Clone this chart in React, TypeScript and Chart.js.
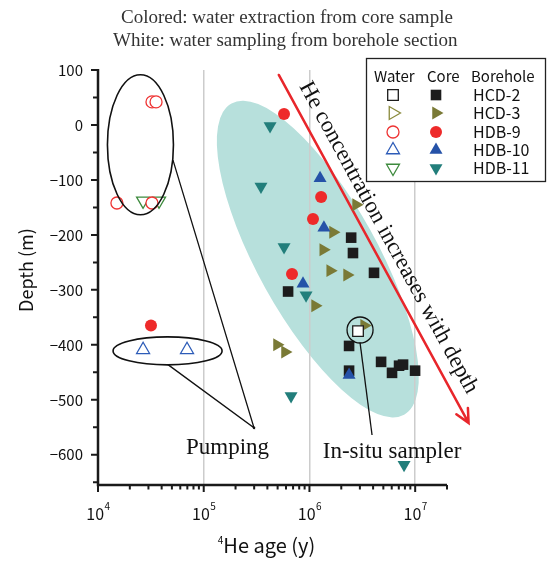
import React, { useEffect, useRef } from 'react';
import { Chart, registerables } from 'chart.js';
import { drawPoint } from 'chart.js/helpers';

Chart.register(...registerables);

const SANS = '"Noto Sans CJK JP", "DejaVu Sans", sans-serif';
const SERIF = '"Liberation Serif", "DejaVu Serif", serif';

// ---------- axes ----------
const X_MIN = 1e4;
const X_MAX = 2e7;
const Y_MIN = -655;
const Y_MAX = 100;
const xMajorTicks = [1e4, 1e5, 1e6, 1e7];
const xTickExponents = ['4', '5', '6', '7'];
const yMajorTicks = [100, 0, -100, -200, -300, -400, -500, -600];
const yMinorTicks = [50, -50, -150, -250, -350, -450, -550, -650];

// ---------- data (4He age in years, depth in m) ----------
const boreholes = ['HCD-2', 'HCD-3', 'HDB-9', 'HDB-10', 'HDB-11'];

const hcd2CoreAge = [2.48e6, 2.58e6, 4.08e6, 6.28e5, 2.37e6, 2.37e6, 4.76e6, 6.04e6, 7.04e6, 7.68e6, 9.98e6];
const hcd2CoreDepth = [-205, -233, -269, -303, -402, -447, -431, -451, -438, -436, -447];
const hcd2WaterAge = [2.88e6];
const hcd2WaterDepth = [-375];

const hcd3CoreAge = [2.76e6, 1.67e6, 1.35e6, 1.57e6, 2.27e6, 1.13e6, 3.29e6, 4.93e5, 5.87e5];
const hcd3CoreDepth = [-145, -195, -227, -265, -273, -329, -365, -400, -413];
const hcd3WaterAge: number[] = [];
const hcd3WaterDepth: number[] = [];

const hdb9CoreAge = [5.75e5, 1.29e6, 1.08e6, 6.84e5, 3.17e4];
const hdb9CoreDepth = [20, -131, -171, -271, -365];
const hdb9WaterAge = [3.24e4, 3.54e4, 1.51e4, 3.24e4];
const hdb9WaterDepth = [42, 42, -142, -142];

const hdb10CoreAge = [1.26e6, 1.37e6, 8.69e5, 2.37e6];
const hdb10CoreDepth = [-97, -187, -289, -455];
const hdb10WaterAge = [2.67e4, 6.95e4];
const hdb10WaterDepth = [-409, -409];

const hdb11CoreAge = [4.24e5, 3.48e5, 5.75e5, 9.29e5, 6.7e5, 7.85e6];
const hdb11CoreDepth = [-2, -112, -222, -310, -493, -618];
const hdb11WaterAge = [2.67e4, 3.78e4];
const hdb11WaterDepth = [-138, -138];

// ---------- styles ----------
const coreColors = ['#1c1c1c', '#7a7a36', '#ee2a2a', '#2552a8', '#227e7b'];
const waterColors = ['#1c1c1c', '#8a8a3c', '#ee3333', '#2d5cb8', '#3d8a3d'];
const pointStyles = ['rect', 'triangle', 'circle', 'triangle', 'triangle'];
const pointRotations = [0, 90, 0, 0, 180];
const pointRadii = [7.5, 7.5, 6, 7.5, 7.5];

// ---------- annotations (data coordinates) ----------
const tealEllipse = { x: 1.2e6, y: -244, a: 178, b: 60, rot: 61, color: '#b7e0dc' };
const trendArrow = { x1: 5.13e5, y1: 91, x2: 3.2e7, y2: -542, color: '#e8262b' };
const trendLabel = { x: 5.58e6, y: -205, text: 'He concentration increases with depth' };
const pumpEllipseUpper = { x: 2.52e4, y: -36, a: 33, b: 70 };
const pumpEllipseLower = { x: 4.55e4, y: -411, a: 54.5, b: 14 };
const pumpJoin = { x: 2.99e5, y: -551 };
const pumpFromUpper = { x: 5.12e4, y: -64 };
const pumpFromLower = { x: 4.59e4, y: -436 };
const pumpLabel = { x: 1.68e5, y: -587, text: 'Pumping' };
const samplerCircle = { x: 3.01e6, y: -373, r: 13 };
const samplerLineFrom = { x: 3.01e6, y: -396 };
const samplerLineTo = { x: 3.91e6, y: -564 };
const samplerLabel = { x: 6.04e6, y: -594, text: 'In-situ sampler' };
const titleLines = ['Colored: water extraction from core sample', 'White: water sampling from borehole section'];

function fmtY(v: number) {
  return v < 0 ? '\u2212' + Math.abs(v) : String(v);
}

function makeDatasets() {
  const core = [
    [hcd2CoreAge, hcd2CoreDepth],
    [hcd3CoreAge, hcd3CoreDepth],
    [hdb9CoreAge, hdb9CoreDepth],
    [hdb10CoreAge, hdb10CoreDepth],
    [hdb11CoreAge, hdb11CoreDepth],
  ];
  const water = [
    [hcd2WaterAge, hcd2WaterDepth],
    [hcd3WaterAge, hcd3WaterDepth],
    [hdb9WaterAge, hdb9WaterDepth],
    [hdb10WaterAge, hdb10WaterDepth],
    [hdb11WaterAge, hdb11WaterDepth],
  ];
  const mk = (i: number, kind: 'core' | 'water') => {
    const [xs, ys] = kind === 'core' ? core[i] : water[i];
    const open = kind === 'water';
    return {
      label: boreholes[i] + ' ' + kind,
      data: xs.map((x, j) => ({ x, y: ys[j] })),
      showLine: false,
      pointStyle: pointStyles[i],
      rotation: pointRotations[i],
      radius: pointRadii[i],
      pointRadius: pointRadii[i],
      pointBackgroundColor: open ? '#ffffff' : coreColors[i],
      pointBorderColor: open ? waterColors[i] : coreColors[i],
      pointBorderWidth: open ? 1.3 : 0,
      backgroundColor: open ? '#ffffff' : coreColors[i],
      borderColor: open ? waterColors[i] : coreColors[i],
    };
  };
  // index 0 is drawn on top
  return [
    mk(0, 'water'), mk(1, 'water'), mk(2, 'water'), mk(3, 'water'), mk(4, 'water'),
    mk(3, 'core'), mk(4, 'core'), mk(2, 'core'), mk(1, 'core'), mk(0, 'core'),
  ];
}

const annotPlugin = {
  id: 'annot',
  beforeDraw(chart: any) {
    const ctx = chart.ctx;
    const xs = chart.scales.x, ys = chart.scales.y;
    const cx = xs.getPixelForValue(tealEllipse.x);
    const cy = ys.getPixelForValue(tealEllipse.y);
    ctx.save();
    ctx.fillStyle = tealEllipse.color;
    ctx.beginPath();
    ctx.ellipse(cx, cy, tealEllipse.a, tealEllipse.b, (tealEllipse.rot * Math.PI) / 180, 0, Math.PI * 2);
    ctx.fill();
    ctx.restore();
  },
  beforeDatasetsDraw(chart: any) {
    const ctx = chart.ctx;
    const xs = chart.scales.x, ys = chart.scales.y;
    const x1 = xs.getPixelForValue(trendArrow.x1), y1 = ys.getPixelForValue(trendArrow.y1);
    const x2 = xs.getPixelForValue(trendArrow.x2), y2 = ys.getPixelForValue(trendArrow.y2);
    const ang = Math.atan2(y2 - y1, x2 - x1);
    ctx.save();
    ctx.strokeStyle = trendArrow.color;
    ctx.lineWidth = 2.5;
    ctx.lineCap = 'round';
    ctx.beginPath();
    ctx.moveTo(x1, y1);
    ctx.lineTo(x2, y2);
    const hl = 15, ha = (26 * Math.PI) / 180;
    ctx.moveTo(x2 - hl * Math.cos(ang - ha), y2 - hl * Math.sin(ang - ha));
    ctx.lineTo(x2, y2);
    ctx.lineTo(x2 - hl * Math.cos(ang + ha), y2 - hl * Math.sin(ang + ha));
    ctx.stroke();
    ctx.restore();
  },
  afterDraw(chart: any) {
    const ctx = chart.ctx;
    const xs = chart.scales.x, ys = chart.scales.y;
    const area = chart.chartArea;
    const px = (v: number) => xs.getPixelForValue(v);
    const py = (v: number) => ys.getPixelForValue(v);

    ctx.save();
    // axes lines
    ctx.strokeStyle = '#1a1a1a';
    ctx.lineWidth = 2.5;
    ctx.beginPath();
    ctx.moveTo(area.left, area.top - 1);
    ctx.lineTo(area.left, area.bottom);
    ctx.lineTo(area.right, area.bottom);
    ctx.stroke();

    // y ticks
    ctx.lineWidth = 2;
    ctx.beginPath();
    yMajorTicks.forEach((v) => {
      const y = py(v);
      ctx.moveTo(area.left - 7, y);
      ctx.lineTo(area.left, y);
    });
    yMinorTicks.forEach((v) => {
      const y = py(v);
      ctx.moveTo(area.left - 5, y);
      ctx.lineTo(area.left, y);
    });
    // x ticks
    xMajorTicks.forEach((v) => {
      const x = px(v);
      ctx.moveTo(x, area.bottom);
      ctx.lineTo(x, area.bottom + 7);
    });
    for (let d = 1e4; d < X_MAX; d *= 10) {
      for (let m = 2; m <= 9; m++) {
        const v = d * m;
        if (v > X_MAX) break;
        const x = px(v);
        ctx.moveTo(x, area.bottom);
        ctx.lineTo(x, area.bottom + 4.5);
      }
    }
    ctx.stroke();

    // x tick labels with superscripts
    ctx.fillStyle = '#111';
    ctx.textBaseline = 'alphabetic';
    ctx.textAlign = 'left';
    xMajorTicks.forEach((v, i) => {
      ctx.font = `16px ${SANS}`;
      const w1 = ctx.measureText('10').width;
      ctx.font = `10px ${SANS}`;
      const w2 = ctx.measureText(xTickExponents[i]).width;
      const x0 = px(v) - (w1 + w2) / 2;
      ctx.font = `16px ${SANS}`;
      ctx.fillText('10', x0, 520);
      ctx.font = `10px ${SANS}`;
      ctx.fillText(xTickExponents[i], x0 + w1 + 0.5, 510);
    });

    // x axis title
    {
      ctx.font = `10px ${SANS}`;
      const ws = ctx.measureText('4').width;
      ctx.font = `20px ${SANS}`;
      const wt = ctx.measureText('He age (y)').width;
      const cx = (area.left + area.right) / 2 - 6;
      const x0 = cx - (ws + wt) / 2;
      ctx.font = `10px ${SANS}`;
      ctx.fillText('4', x0, 544);
      ctx.font = `20px ${SANS}`;
      ctx.fillText('He age (y)', x0 + ws, 553);
    }
    // y axis title
    ctx.save();
    ctx.translate(26, 270);
    ctx.rotate(-Math.PI / 2);
    ctx.textAlign = 'center';
    ctx.textBaseline = 'middle';
    ctx.font = `18px ${SANS}`;
    ctx.fillText('Depth (m)', 0, 0);
    ctx.restore();

    // header title lines
    ctx.font = `19px ${SERIF}`;
    ctx.fillStyle = '#333';
    ctx.textAlign = 'left';
    ctx.fillText(titleLines[0], 121, 23);
    ctx.fillText(titleLines[1], 113, 46);

    // trend label
    {
      const x1 = px(trendArrow.x1), y1 = py(trendArrow.y1);
      const x2 = px(trendArrow.x2), y2 = py(trendArrow.y2);
      const ang = Math.atan2(y2 - y1, x2 - x1);
      ctx.save();
      ctx.translate(px(trendLabel.x), py(trendLabel.y));
      ctx.rotate(ang);
      ctx.font = `23px ${SERIF}`;
      ctx.fillStyle = '#111';
      ctx.textAlign = 'center';
      ctx.textBaseline = 'middle';
      ctx.fillText(trendLabel.text, 0, 0);
      ctx.restore();
    }

    // pumping ellipses and lines
    ctx.strokeStyle = '#111';
    ctx.lineWidth = 1.6;
    ctx.beginPath();
    ctx.ellipse(px(pumpEllipseUpper.x), py(pumpEllipseUpper.y), pumpEllipseUpper.a, pumpEllipseUpper.b, 0, 0, Math.PI * 2);
    ctx.stroke();
    ctx.beginPath();
    ctx.ellipse(px(pumpEllipseLower.x), py(pumpEllipseLower.y), pumpEllipseLower.a, pumpEllipseLower.b, 0, 0, Math.PI * 2);
    ctx.stroke();
    ctx.lineWidth = 1.3;
    ctx.beginPath();
    ctx.moveTo(px(pumpFromUpper.x), py(pumpFromUpper.y));
    ctx.lineTo(px(pumpJoin.x), py(pumpJoin.y));
    ctx.lineTo(px(pumpFromLower.x), py(pumpFromLower.y));
    ctx.stroke();
    ctx.fillStyle = '#111';
    ctx.beginPath();
    ctx.arc(px(pumpJoin.x), py(pumpJoin.y), 1.3, 0, Math.PI * 2);
    ctx.fill();

    // in-situ sampler
    ctx.lineWidth = 1.3;
    ctx.beginPath();
    ctx.arc(px(samplerCircle.x), py(samplerCircle.y), samplerCircle.r, 0, Math.PI * 2);
    ctx.stroke();
    ctx.beginPath();
    ctx.moveTo(px(samplerLineFrom.x), py(samplerLineFrom.y));
    ctx.lineTo(px(samplerLineTo.x), py(samplerLineTo.y));
    ctx.stroke();

    // labels
    ctx.font = `23px ${SERIF}`;
    ctx.fillStyle = '#111';
    ctx.textAlign = 'center';
    ctx.textBaseline = 'middle';
    ctx.fillText(pumpLabel.text, px(pumpLabel.x), py(pumpLabel.y));
    ctx.fillText(samplerLabel.text, px(samplerLabel.x), py(samplerLabel.y));

    // legend
    const lx = 366, ly = 58, lw = 180, lh = 124;
    ctx.fillStyle = '#ffffff';
    ctx.fillRect(lx, ly, lw, lh);
    ctx.strokeStyle = '#222';
    ctx.lineWidth = 1.3;
    ctx.strokeRect(lx + 0.5, ly + 0.5, lw - 1, lh - 1);
    ctx.fillStyle = '#111';
    ctx.font = `15px ${SANS}`;
    ctx.textAlign = 'left';
    ctx.textBaseline = 'middle';
    ctx.fillText('Water', 374, 76);
    ctx.fillText('Core', 427, 76);
    ctx.fillText('Borehole', 471, 76);
    const rowY = [95, 113, 132, 150, 168];
    boreholes.forEach((name, i) => {
      const y = rowY[i];
      // water (open)
      ctx.fillStyle = '#ffffff';
      ctx.strokeStyle = waterColors[i];
      ctx.lineWidth = 1.3;
      drawPoint(ctx, { pointStyle: pointStyles[i], rotation: pointRotations[i], radius: pointRadii[i], borderWidth: 1.3 } as any, 393, y);
      // core (filled)
      ctx.fillStyle = coreColors[i];
      ctx.strokeStyle = coreColors[i];
      drawPoint(ctx, { pointStyle: pointStyles[i], rotation: pointRotations[i], radius: pointRadii[i], borderWidth: 0 } as any, 436, y);
      ctx.fillStyle = '#111';
      ctx.font = `16px ${SANS}`;
      ctx.fillText(name, 473, y);
    });
    ctx.restore();
  },
};

export default function App() {
  const ref = useRef<HTMLCanvasElement | null>(null);
  useEffect(() => {
    if (!ref.current) return;
    const chart = new Chart(ref.current, {
      type: 'scatter',
      data: { datasets: makeDatasets() as any },
      options: {
        responsive: false,
        maintainAspectRatio: false,
        animation: false,
        devicePixelRatio: 1,
        layout: { padding: { top: 70, right: 102, left: 0, bottom: 0 } },
        plugins: {
          legend: { display: false },
          tooltip: { enabled: false },
          title: { display: false },
        },
        scales: {
          x: {
            type: 'logarithmic',
            min: X_MIN,
            max: X_MAX,
            afterBuildTicks: (s: any) => {
              s.ticks = xMajorTicks.map((v) => ({ value: v }));
            },
            afterFit: (s: any) => {
              s.height = 78;
            },
            ticks: { display: false },
            grid: {
              drawTicks: false,
              lineWidth: 1.5,
              color: (c: any) => (c.tick && c.tick.value === X_MIN ? 'rgba(0,0,0,0)' : '#cccccc'),
            },
            border: { display: false },
          },
          y: {
            type: 'linear',
            min: Y_MIN,
            max: Y_MAX,
            afterBuildTicks: (s: any) => {
              s.ticks = yMajorTicks.map((v) => ({ value: v }));
            },
            afterFit: (s: any) => {
              s.width = 98;
            },
            ticks: {
              padding: 15,
              color: '#111',
              font: { family: SANS, size: 15 },
              callback: (v: any) => fmtY(Number(v)),
            },
            grid: { display: false, drawTicks: false },
            border: { display: false },
          },
        },
      },
      plugins: [annotPlugin],
    });
    return () => chart.destroy();
  }, []);
  return (
    <div style={{ position: 'absolute', left: 0, top: 0, width: 549, height: 563 }}>
      <canvas ref={ref} width={549} height={563} style={{ width: 549, height: 563, display: 'block' }} />
    </div>
  );
}
